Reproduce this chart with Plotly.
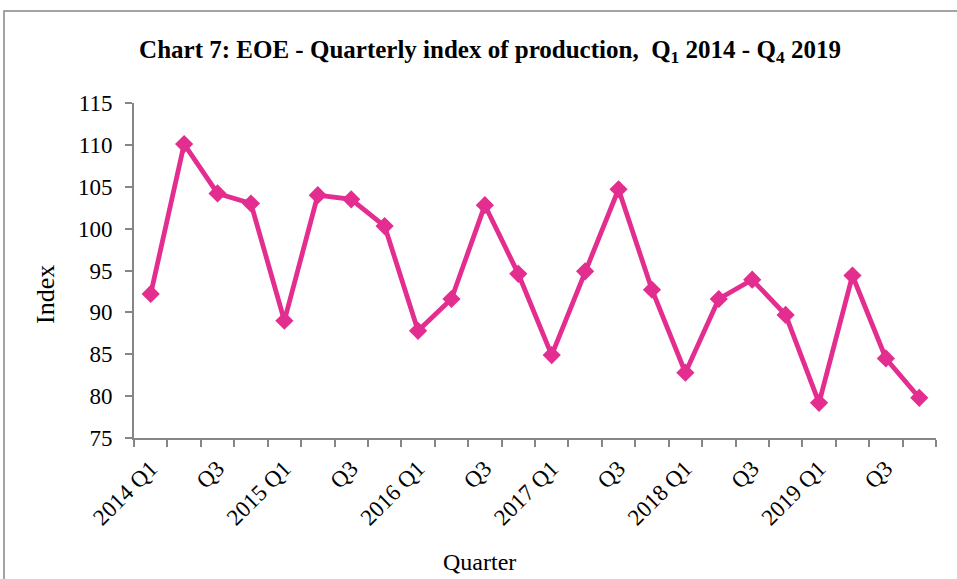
import plotly.graph_objects as go

years = ["2014", "2015", "2016", "2017", "2018", "2019"]
quarters = ["Q1", "Q2", "Q3", "Q4"]
categories = [f"{y} {q}" for y in years for q in quarters]
tick_labels = []
for y in years:
    tick_labels += [f"{y} Q1", "", "Q3", ""]

index_values = [92.2, 110.1, 104.2, 103.0, 89.0, 104.0, 103.5, 100.3,
                87.8, 91.6, 102.8, 94.6, 84.9, 94.9, 104.7, 92.7,
                82.8, 91.6, 93.9, 89.7, 79.2, 94.4, 84.5, 79.8]

W, H = 957, 579
L, R, T, B = 134, 936, 103, 438

def px_x(p):
    return (p - L) / (R - L)

def px_y(p):
    return (B - p) / (B - T)

serif = "Liberation Serif, Times New Roman, serif"
pink = "#E32D8F"
grey = "#868686"

fig = go.Figure(go.Scatter(
    x=categories, y=index_values, mode="lines+markers",
    line=dict(color=pink, width=4.8),
    marker=dict(symbol="diamond", size=14, color=pink),
    showlegend=False, cliponaxis=False,
))

fig.update_layout(
    width=W, height=H,
    margin=dict(l=L, r=W - R, t=T, b=H - B, pad=0),
    paper_bgcolor="white", plot_bgcolor="white",
    font=dict(family=serif, size=23, color="black"),
    title=dict(
        text="<b>Chart 7: EOE - Quarterly index of production,  Q<sub>1</sub> 2014 - Q<sub>4</sub> 2019</b>",
        x=490 / W, xanchor="center", xref="container",
        y=1 - 49 / H, yanchor="middle", yref="container",
        font=dict(family=serif, size=25, color="black"),
    ),
    xaxis=dict(
        type="category", tickmode="array", tickvals=categories, ticktext=tick_labels,
        tickson="boundaries", ticks="outside", ticklen=7, tickcolor=grey, tickwidth=2,
        showline=True, linecolor=grey, linewidth=2, showgrid=False, zeroline=False,
        tickangle=-45, ticklabelstandoff=6,
        tickfont=dict(family=serif, size=23, color="black"),
        range=[-0.5, len(categories) - 0.5],
    ),
    yaxis=dict(
        range=[75, 115], dtick=5, tick0=75, ticks="outside", ticklen=7,
        tickcolor=grey, tickwidth=2, showline=True, linecolor=grey, linewidth=2,
        showgrid=False, zeroline=False, ticklabelstandoff=8,
        tickfont=dict(family=serif, size=23, color="black"),
    ),
    annotations=[
        dict(text="Index", x=px_x(45), y=px_y(295), xref="paper", yref="paper",
             textangle=-90, showarrow=False, xanchor="center", yanchor="middle",
             font=dict(family=serif, size=26, color="black")),
        dict(text="Quarter", x=px_x(479), y=px_y(562), xref="paper", yref="paper",
             showarrow=False, xanchor="center", yanchor="middle",
             font=dict(family=serif, size=24, color="black")),
    ],
    shapes=[
        dict(type="rect", xref="paper", yref="paper",
             x0=px_x(4), x1=px_x(990), y0=px_y(620), y1=px_y(11),
             line=dict(color=grey, width=1.5), fillcolor="rgba(0,0,0,0)", layer="below"),
    ],
)

fig.write_html("out.html", config={"displayModeBar": False},
               post_script="document.body.style.margin='0';document.body.style.overflow='hidden';")
